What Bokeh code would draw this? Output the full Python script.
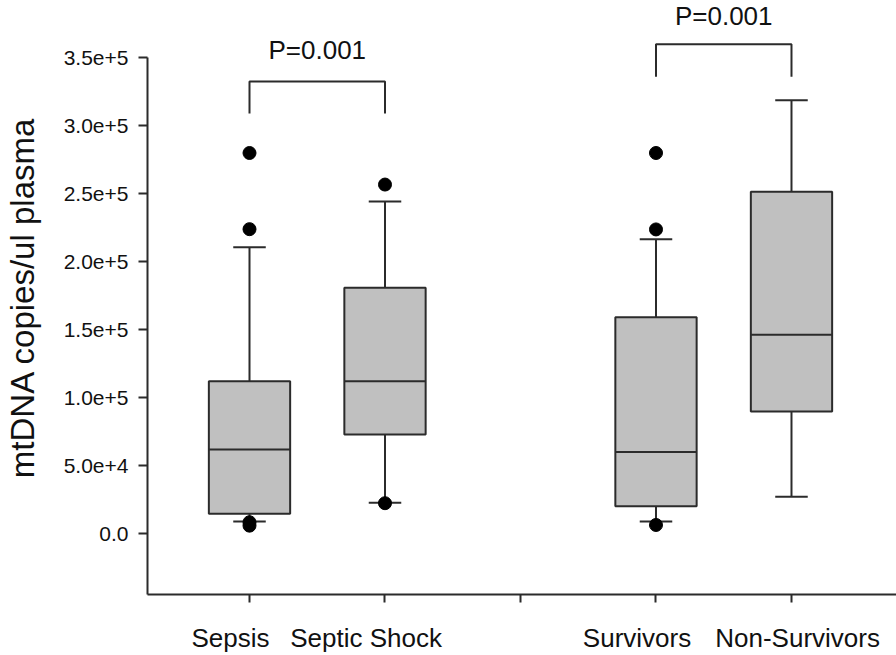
import numpy as np
from bokeh.plotting import figure
from bokeh.models import Range1d, FixedTicker, ColumnDataSource, LinearAxis
from bokeh.core.properties import value
from bokeh.embed import file_html
from bokeh.resources import INLINE

# ---- data ----
groups = ["Sepsis", "Septic Shock", "Survivors", "Non-Survivors"]
group_x = [1, 2, 4, 5]
q1 = [14700, 73000, 20200, 89900]
median = [62000, 112200, 60100, 146400]
q3 = [112200, 180900, 159300, 251500]
whisker_low = [9000, 22800, 9100, 27300]
whisker_high = [210700, 244300, 216500, 318700]

outlier_x = [1, 1, 1, 1, 2, 2, 4, 4, 4]
outlier_y = [280000, 224000, 8500, 6000, 256800, 22500, 280000, 223800, 6500]

# significance brackets
bracket_x1 = [1, 4]
bracket_x2 = [2, 5]
bracket_top = [332600, 360000]
bracket_bottom = [309000, 336000]
p_text = ["P=0.001", "P=0.001"]
p_y = [356000, 381000]

x_ticks = [1, 2, 3, 4, 5]
y_ticks = [0, 50000, 100000, 150000, 200000, 250000, 300000, 350000]
y_tick_labels = ["0.0", "5.0e+4", "1.0e+5", "1.5e+5", "2.0e+5", "2.5e+5", "3.0e+5", "3.5e+5"]
y_title = "mtDNA copies/ul plasma"

# ---- style ----
FONT = "Liberation Sans"
DARK = "#2b2b2b"
BOX_W = 0.6
CAP_W = 0.24
LABEL_SHIFT = [-0.14, -0.14, -0.14, 0.045]   # horizontal nudge of the category labels

p = figure(width=896, height=655, output_backend="svg", toolbar_location=None,
           x_range=Range1d(0.2472, 5.775), y_range=Range1d(-44630, 392130),
           min_border_left=147, min_border_right=0, min_border_top=0, min_border_bottom=61)
p.outline_line_color = None
p.xgrid.grid_line_color = None
p.ygrid.grid_line_color = None
p.background_fill_color = "white"

gx = np.array(group_x, dtype=float)
src = ColumnDataSource(dict(
    x=gx, q1=q1, med=median, q3=q3, lo=whisker_low, hi=whisker_high,
    x0=gx - BOX_W / 2, x1=gx + BOX_W / 2, c0=gx - CAP_W / 2, c1=gx + CAP_W / 2,
))

# whisker stems
p.segment(x0="x", y0="q3", x1="x", y1="hi", source=src, line_color=DARK, line_width=2)
p.segment(x0="x", y0="lo", x1="x", y1="q1", source=src, line_color=DARK, line_width=2)
# caps
p.segment(x0="c0", y0="hi", x1="c1", y1="hi", source=src, line_color=DARK, line_width=2)
p.segment(x0="c0", y0="lo", x1="c1", y1="lo", source=src, line_color=DARK, line_width=2)
# boxes
p.vbar(x="x", width=BOX_W, bottom="q1", top="q3", source=src,
       fill_color="#c0c0c0", line_color=DARK, line_width=2)
# medians
p.segment(x0="x0", y0="med", x1="x1", y1="med", source=src, line_color=DARK, line_width=2)
# outliers
p.scatter(outlier_x, outlier_y, size=13, marker="circle", fill_color="black", line_color="black")

# brackets
bx = [[a, a, b, b] for a, b in zip(bracket_x1, bracket_x2)]
by = [[lo, hi, hi, lo] for lo, hi in zip(bracket_bottom, bracket_top)]
p.multi_line(bx, by, line_color=DARK, line_width=2)
p.text(x=[(a + b) / 2 for a, b in zip(bracket_x1, bracket_x2)], y=p_y, text=p_text,
       text_font=value(FONT), text_font_size="26px", text_color="#111111",
       text_align="center", text_baseline="middle")

# x axis: tick marks at the groups (labels drawn by a second axis below)
xa = p.xaxis[0]
xa.ticker = FixedTicker(ticks=x_ticks)
xa.major_label_overrides = {t: "" for t in x_ticks}
xa.major_label_text_font_size = "0px"
xa.major_label_standoff = 0
xa.minor_tick_line_color = None
xa.major_tick_in = 0
xa.major_tick_out = 8
xa.axis_line_color = DARK
xa.axis_line_width = 2
xa.major_tick_line_color = DARK
xa.major_tick_line_width = 2

label_pos = [g + s for g, s in zip(group_x, LABEL_SHIFT)]
xl = LinearAxis(ticker=FixedTicker(ticks=label_pos),
                major_label_overrides={t: l for t, l in zip(label_pos, groups)})
xl.axis_line_color = None
xl.major_tick_line_color = None
xl.minor_tick_line_color = None
xl.major_tick_in = 0
xl.major_tick_out = 0
xl.major_label_text_font = FONT
xl.major_label_text_font_size = "26px"
xl.major_label_text_color = "#111111"
xl.major_label_standoff = 20
p.add_layout(xl, "below")

ya = p.yaxis[0]
ya.ticker = FixedTicker(ticks=y_ticks)
ya.major_label_overrides = {t: l for t, l in zip(y_ticks, y_tick_labels)}
ya.bounds = (-44630, 350000)
ya.minor_tick_line_color = None
ya.major_tick_in = 0
ya.major_tick_out = 9
ya.axis_line_color = DARK
ya.axis_line_width = 2
ya.major_tick_line_color = DARK
ya.major_tick_line_width = 2
ya.major_label_text_font = FONT
ya.major_label_text_font_size = "21px"
ya.major_label_text_color = "#111111"
ya.major_label_standoff = 10
ya.axis_label = y_title
ya.axis_label_text_font = FONT
ya.axis_label_text_font_size = "33px"
ya.axis_label_text_font_style = "normal"
ya.axis_label_text_color = "#111111"
ya.axis_label_standoff = 20

open("out.html", "w").write(file_html(p, INLINE))
